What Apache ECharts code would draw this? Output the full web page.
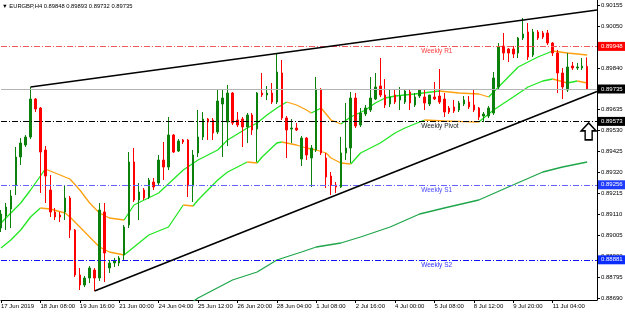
<!DOCTYPE html>
<html>
<head>
<meta charset="utf-8">
<script src="https://cdn.jsdelivr.net/npm/echarts@6/dist/echarts.min.js"></script>
<style>
  html, body { margin: 0; padding: 0; background: #fff; }
  #main { width: 625px; height: 316px; }
</style>
</head>
<body>
<div id="main"></div>
<script>
// EURGBP H4 bars, 17 Jun 2019 .. 12 Jul 2019
const opens = [
  0.89040, 0.89100, 0.89135, 0.89255, 0.89395, 0.89455, 0.89495, 0.89685, 0.89640, 0.89430,
  0.89230, 0.89120, 0.89105, 0.89120, 0.89190, 0.89030, 0.88805, 0.88755, 0.88790, 0.88830,
  0.88790, 0.89120, 0.88840, 0.88865, 0.88865, 0.88905, 0.89055, 0.89370, 0.89180, 0.89230,
  0.89195, 0.89270, 0.89265, 0.89380, 0.89345, 0.89505, 0.89425, 0.89480, 0.89480, 0.89250,
  0.89415, 0.89495, 0.89585, 0.89580, 0.89520, 0.89660, 0.89570, 0.89715, 0.89580, 0.89585,
  0.89545, 0.89605, 0.89535, 0.89715, 0.89705, 0.89715, 0.89670, 0.89815, 0.89590, 0.89535,
  0.89540, 0.89385, 0.89490, 0.89390, 0.89430, 0.89730, 0.89390, 0.89300, 0.89255, 0.89245,
  0.89415, 0.89440, 0.89690, 0.89555, 0.89610, 0.89630, 0.89685, 0.89750, 0.89705, 0.89660,
  0.89705, 0.89680, 0.89670, 0.89720, 0.89655, 0.89700, 0.89695, 0.89660, 0.89695, 0.89700,
  0.89685, 0.89640, 0.89645, 0.89630, 0.89660, 0.89670, 0.89655, 0.89640, 0.89600, 0.89600,
  0.89615, 0.89745, 0.89950, 0.89935, 0.89935, 0.89915, 0.89990, 0.90020, 0.89905, 0.90020,
  0.90015, 0.90015, 0.89965, 0.89915, 0.89815, 0.89730, 0.89850, 0.89840, 0.89840, 0.89848
];
const closes = [
  0.89110, 0.89145, 0.89200, 0.89395, 0.89465, 0.89495, 0.89685, 0.89635, 0.89420, 0.89300,
  0.89120, 0.89095, 0.89095, 0.89190, 0.89030, 0.88805, 0.88755, 0.88790, 0.88840, 0.88790,
  0.89130, 0.88915, 0.88865, 0.88875, 0.88890, 0.89045, 0.89370, 0.89180, 0.89220, 0.89190,
  0.89280, 0.89245, 0.89380, 0.89345, 0.89505, 0.89420, 0.89475, 0.89470, 0.89250, 0.89405,
  0.89495, 0.89585, 0.89570, 0.89515, 0.89675, 0.89690, 0.89715, 0.89565, 0.89555, 0.89545,
  0.89605, 0.89530, 0.89715, 0.89705, 0.89715, 0.89670, 0.89820, 0.89590, 0.89530, 0.89540,
  0.89530, 0.89490, 0.89405, 0.89440, 0.89735, 0.89415, 0.89295, 0.89255, 0.89245, 0.89415,
  0.89440, 0.89690, 0.89550, 0.89615, 0.89640, 0.89690, 0.89745, 0.89705, 0.89655, 0.89695,
  0.89670, 0.89700, 0.89725, 0.89665, 0.89695, 0.89730, 0.89665, 0.89705, 0.89685, 0.89670,
  0.89620, 0.89620, 0.89625, 0.89665, 0.89680, 0.89645, 0.89630, 0.89595, 0.89610, 0.89640,
  0.89790, 0.89945, 0.89915, 0.89915, 0.89910, 0.89990, 0.90010, 0.89895, 0.90020, 0.89990,
  0.89995, 0.89965, 0.89915, 0.89815, 0.89745, 0.89845, 0.89840, 0.89845, 0.89850, 0.89735
];
const lows = [
  0.89020, 0.89030, 0.89040, 0.89205, 0.89355, 0.89445, 0.89485, 0.89620, 0.89215, 0.89165,
  0.89095, 0.89080, 0.89070, 0.89080, 0.88990, 0.88795, 0.88730, 0.88745, 0.88765, 0.88725,
  0.88775, 0.88770, 0.88815, 0.88845, 0.88850, 0.88880, 0.89040, 0.89170, 0.89080, 0.89180,
  0.89185, 0.89230, 0.89255, 0.89280, 0.89330, 0.89415, 0.89420, 0.89460, 0.89195, 0.89170,
  0.89395, 0.89480, 0.89480, 0.89480, 0.89510, 0.89395, 0.89450, 0.89555, 0.89545, 0.89445,
  0.89465, 0.89505, 0.89370, 0.89695, 0.89680, 0.89660, 0.89660, 0.89580, 0.89390, 0.89465,
  0.89525, 0.89350, 0.89380, 0.89245, 0.89420, 0.89405, 0.89240, 0.89205, 0.89215, 0.89240,
  0.89380, 0.89365, 0.89540, 0.89545, 0.89600, 0.89620, 0.89680, 0.89695, 0.89640, 0.89645,
  0.89660, 0.89630, 0.89660, 0.89630, 0.89645, 0.89690, 0.89630, 0.89650, 0.89680, 0.89660,
  0.89595, 0.89610, 0.89615, 0.89620, 0.89650, 0.89635, 0.89620, 0.89580, 0.89570, 0.89590,
  0.89605, 0.89735, 0.89880, 0.89870, 0.89890, 0.89890, 0.89980, 0.89880, 0.89895, 0.89980,
  0.89985, 0.89955, 0.89900, 0.89715, 0.89685, 0.89720, 0.89830, 0.89830, 0.89830, 0.89732
];
const highs = [
  0.89130, 0.89165, 0.89230, 0.89445, 0.89490, 0.89505, 0.89745, 0.89690, 0.89645, 0.89450,
  0.89305, 0.89140, 0.89120, 0.89255, 0.89200, 0.89035, 0.88840, 0.88800, 0.88850, 0.88840,
  0.89165, 0.89165, 0.88880, 0.88890, 0.88900, 0.89055, 0.89420, 0.89440, 0.89265, 0.89240,
  0.89290, 0.89290, 0.89405, 0.89470, 0.89595, 0.89510, 0.89485, 0.89485, 0.89485, 0.89430,
  0.89630, 0.89620, 0.89590, 0.89590, 0.89730, 0.89730, 0.89755, 0.89720, 0.89620, 0.89595,
  0.89615, 0.89615, 0.89720, 0.89815, 0.89750, 0.89765, 0.89910, 0.89880, 0.89600, 0.89585,
  0.89565, 0.89500, 0.89495, 0.89455, 0.89795, 0.89740, 0.89415, 0.89320, 0.89270, 0.89495,
  0.89665, 0.89720, 0.89715, 0.89640, 0.89655, 0.89795, 0.89815, 0.89890, 0.89785, 0.89730,
  0.89730, 0.89745, 0.89730, 0.89730, 0.89715, 0.89735, 0.89730, 0.89705, 0.89770, 0.89835,
  0.89715, 0.89650, 0.89680, 0.89675, 0.89700, 0.89700, 0.89730, 0.89645, 0.89620, 0.89650,
  0.89820, 0.89965, 0.90015, 0.89940, 0.89950, 0.89995, 0.90090, 0.90065, 0.90035, 0.90030,
  0.90025, 0.90030, 0.89970, 0.89930, 0.89840, 0.89915, 0.89870, 0.89865, 0.89890, 0.89893
];

// moving averages: [bar index, price]
const fastMa = [
  [0, 0.89065], [2, 0.89115], [4, 0.89165], [6, 0.89230], [9, 0.89335], [12, 0.89305],
  [14, 0.89285], [16, 0.89230], [18, 0.89165], [20, 0.89115], [22, 0.89090], [25, 0.89080],
  [27, 0.89155], [32, 0.89215], [37, 0.89330], [40, 0.89380], [44, 0.89430], [46, 0.89480],
  [50, 0.89540], [52, 0.89565], [54, 0.89605], [56, 0.89640], [58, 0.89670], [60, 0.89655],
  [62, 0.89630], [63, 0.89615], [65, 0.89640], [67, 0.89580], [69, 0.89560], [71, 0.89595],
  [74, 0.89630], [76, 0.89665], [78, 0.89690], [80, 0.89700], [84, 0.89710], [89, 0.89725],
  [93, 0.89715], [97, 0.89710], [99, 0.89695], [102, 0.89770], [105, 0.89845], [109, 0.89895],
  [112, 0.89925], [115, 0.89915], [117, 0.89910], [119, 0.89905]
];
const slowMa = [
  [0, 0.88940], [2, 0.88980], [4, 0.89030], [6, 0.89095], [8, 0.89140], [10, 0.89135],
  [13, 0.89115], [14, 0.89095], [16, 0.89045], [18, 0.88995], [20, 0.88945], [22, 0.88920],
  [24, 0.88910], [25, 0.88905], [27, 0.88945], [30, 0.89005], [34, 0.89045], [37, 0.89155],
  [39, 0.89150], [40, 0.89180], [44, 0.89280], [46, 0.89320], [50, 0.89370], [52, 0.89365],
  [53, 0.89395], [56, 0.89465], [57, 0.89470], [60, 0.89455], [62, 0.89440], [64, 0.89430],
  [66, 0.89415], [67, 0.89390], [69, 0.89365], [71, 0.89360], [73, 0.89415], [77, 0.89465],
  [80, 0.89515], [82, 0.89540], [86, 0.89580], [90, 0.89575], [94, 0.89572], [97, 0.89570],
  [100, 0.89630], [104, 0.89695], [107, 0.89745], [110, 0.89775], [112, 0.89785], [115, 0.89765],
  [117, 0.89775], [119, 0.89765]
];
const longMa = [
  [38, 0.88655], [40, 0.88690], [47, 0.88780], [52, 0.88820], [56, 0.88880], [61, 0.88920],
  [64, 0.88945], [69, 0.88965], [73, 0.88995], [79, 0.89045], [85, 0.89110], [90, 0.89140],
  [97, 0.89180], [103, 0.89245], [110, 0.89320], [114, 0.89345], [119, 0.89370]
];

// weekly pivot levels
const pivotNames = ['Weekly R1', 'Weekly Pivot', 'Weekly S1', 'Weekly S2'];
const pivotValues = [0.89948, 0.89573, 0.89256, 0.88881];
const lastPrice = 0.89735;

// trend channel anchors: [bar index, price]
const upperTrend = [[6, 0.89745], [121, 0.90130]];
const lowerTrend = [[19, 0.88725], [121, 0.89723]];
const arrowAt = [119, 0.89523];

const yTickLabels = ['0.90155', '0.90050', '0.89945', '0.89840', '0.89735', '0.89635', '0.89530',
  '0.89425', '0.89320', '0.89215', '0.89110', '0.89005', '0.88900', '0.88795', '0.88690'];
const xTickLabels = ['17 Jun 2019', '18 Jun 08:00', '19 Jun 16:00', '21 Jun 00:00', '24 Jun 04:00',
  '25 Jun 12:00', '26 Jun 20:00', '28 Jun 04:00', '1 Jul 08:00', '2 Jul 16:00', '4 Jul 00:00',
  '5 Jul 08:00', '8 Jul 12:00', '9 Jul 20:00', '11 Jul 04:00'];

// H4 bar times, weekends skipped (two spare slots on the right)
const barTimes = [];
(function () {
  let t = Date.UTC(2019, 5, 17, 0);
  while (barTimes.length < opens.length + 2) {
    const d = new Date(t);
    const wd = d.getUTCDay();
    if (wd !== 0 && wd !== 6) barTimes.push(d.toISOString().slice(0, 16));
    t += 4 * 3600 * 1000;
  }
})();

const candleData = opens.map((o, i) => [o, closes[i], lows[i], highs[i]]);
const FONT = 'Liberation Sans, DejaVu Sans, sans-serif';
const UP = '#0b800b';
const DOWN = '#ff0000';
const LIME = '#22e622';
const ORANGE = '#ffa010';

function pt(p) { return [barTimes[p[0]], p[1]]; }

// split an MA into rising / falling runs, each drawn in its own colour
function slopeSeries(points) {
  const runs = [];
  let cur = null;
  for (let k = 1; k < points.length; k++) {
    const up = points[k][1] >= points[k - 1][1];
    if (!cur || cur.up !== up) {
      cur = { up: up, pts: [pt(points[k - 1])] };
      runs.push(cur);
    }
    cur.pts.push(pt(points[k]));
  }
  return runs.map(r => ({
    type: 'line',
    data: r.pts,
    symbol: 'none',
    silent: true,
    z: 3,
    lineStyle: { color: r.up ? LIME : ORANGE, width: 1.3 }
  }));
}

const pivotStyle = [
  { line: '#f05a5a', text: '#ff3a3a', tag: '#ff0000' },
  { line: '#000000', text: '#222222', tag: '#000000' },
  { line: '#6464ff', text: '#4a4aff', tag: '#1f3cff' },
  { line: '#1010ff', text: '#3030ff', tag: '#0a2cff' }
];

const tagLabel = (bg) => ({
  show: true, position: 'end', distance: 1,
  formatter: p => p.value.toFixed(5),
  backgroundColor: bg, color: '#fff', fontSize: 6, fontFamily: FONT,
  padding: [2, 3, 1, 3]
});

const markLines = [];
pivotValues.forEach((v, i) => {
  markLines.push({
    yAxis: v,
    lineStyle: { color: pivotStyle[i].line, type: [6, 2, 1, 2], width: 1 },
    label: tagLabel(pivotStyle[i].tag)
  });
});
markLines.push({
  yAxis: lastPrice,
  lineStyle: { color: '#b4b4b4', type: 'solid', width: 1 },
  label: tagLabel('#000000')
});
[upperTrend, lowerTrend].forEach(tr => {
  markLines.push([
    { coord: pt(tr[0]), lineStyle: { color: '#000', width: 1.6, type: 'solid' }, label: { show: false } },
    { coord: pt(tr[1]) }
  ]);
});

const markPoints = pivotNames.map((name, i) => ({
  coord: [barTimes[85], pivotValues[i]],
  symbol: 'rect', symbolSize: 1,
  itemStyle: { color: 'rgba(0,0,0,0)' },
  label: {
    show: true, position: 'right', distance: 0, offset: [1, 5],
    formatter: name, color: pivotStyle[i].text, fontSize: 6.5, fontFamily: FONT
  }
}));
markPoints.push({
  coord: pt(arrowAt),
  symbol: 'path://M7.5,0 L15,8 L11,8 L11,17 L4,17 L4,8 L0,8 Z',
  symbolSize: [15, 17],
  symbolOffset: [1.5, 0],
  itemStyle: { color: '#fff', borderColor: '#000', borderWidth: 1.5 },
  label: { show: false }
});

const chart = echarts.init(document.getElementById('main'));
chart.setOption({
  animation: false,
  backgroundColor: '#fff',
  title: {
    text: '\u25BC EURGBP,H4 0.89848 0.89893 0.89732 0.89735',
    left: 2, top: 3, padding: 0,
    textStyle: { fontSize: 5.8, fontWeight: 'normal', color: '#000', fontFamily: FONT }
  },
  grid: { left: 1, right: 28, top: 0, bottom: 16, containLabel: false, outerBoundsMode: 'none' },
  xAxis: {
    type: 'category',
    data: barTimes,
    boundaryGap: false,
    axisLine: { show: true, lineStyle: { color: '#000', width: 1 } },
    axisTick: {
      show: true, length: 3, lineStyle: { color: '#000' },
      interval: i => i % 8 === 0 && i / 8 < xTickLabels.length
    },
    axisLabel: {
      show: true, align: 'left', margin: 3, fontSize: 6, color: '#000', fontFamily: FONT,
      interval: i => i % 8 === 0 && i / 8 < xTickLabels.length,
      formatter: (v, i) => xTickLabels[i / 8]
    },
    splitLine: { show: false }
  },
  yAxis: {
    type: 'value',
    position: 'right',
    min: 0.88680,
    max: 0.90180,
    scale: true,
    axisLine: { show: true, lineStyle: { color: '#000', width: 1 } },
    axisTick: { show: true, length: 3, customValues: yTickLabels.map(Number), lineStyle: { color: '#000' } },
    axisLabel: {
      show: true, margin: 4, fontSize: 6, color: '#000', fontFamily: FONT,
      customValues: yTickLabels.map(Number),
      formatter: v => v.toFixed(5)
    },
    splitLine: { show: false }
  },
  series: [
    {
      type: 'line',
      data: longMa.map(pt),
      symbol: 'none',
      silent: true,
      z: 3,
      lineStyle: { color: '#1fa64a', width: 1.3 }
    },
    ...slopeSeries(slowMa),
    ...slopeSeries(fastMa),
    {
      type: 'candlestick',
      data: candleData,
      barWidth: 2,
      z: 4,
      itemStyle: {
        color: UP, color0: DOWN,
        borderColor: UP, borderColor0: DOWN,
        borderWidth: 1
      },
      markLine: {
        silent: true,
        precision: 5,
        symbol: ['none', 'none'],
        data: markLines
      },
      markPoint: {
        silent: true,
        precision: 5,
        data: markPoints
      }
    }
  ]
});
</script>
</body>
</html>
